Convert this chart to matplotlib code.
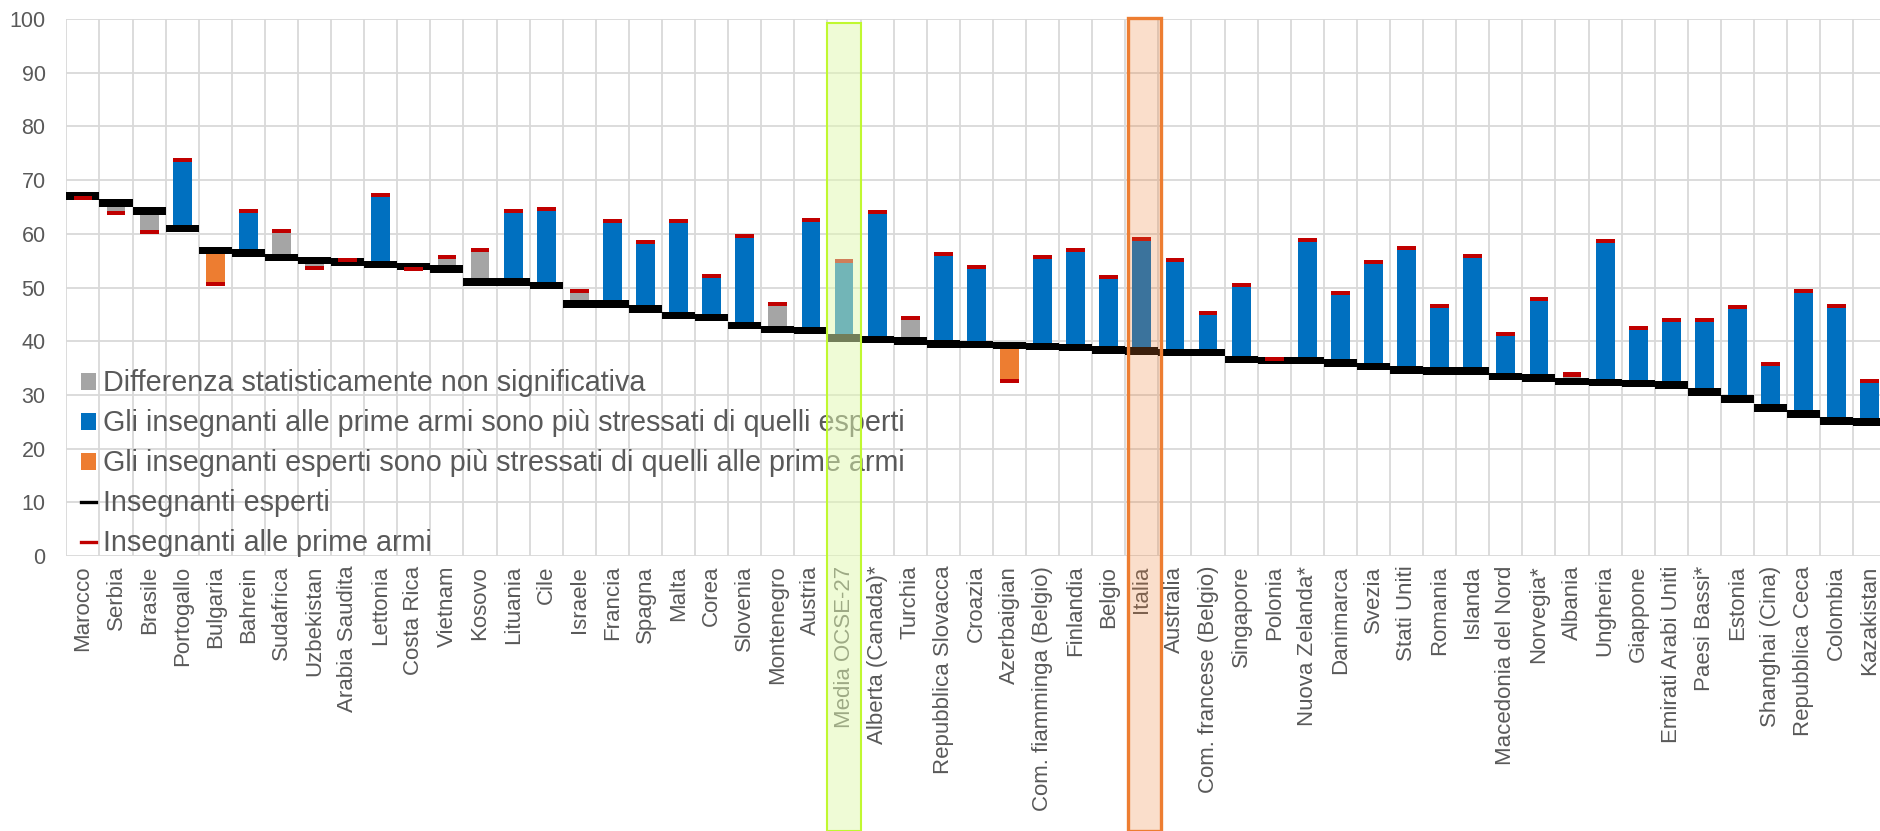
import matplotlib
matplotlib.use("Agg")
import matplotlib.pyplot as plt
import matplotlib.transforms as mtransforms
from matplotlib.patches import Rectangle, Patch
from matplotlib.lines import Line2D
import numpy as np

# ---------------- data ----------------
categories = [
    "Marocco", "Serbia", "Brasile", "Portogallo", "Bulgaria", "Bahrein", "Sudafrica",
    "Uzbekistan", "Arabia Saudita", "Lettonia", "Costa Rica", "Vietnam", "Kosovo",
    "Lituania", "Cile", "Israele", "Francia", "Spagna", "Malta", "Corea", "Slovenia",
    "Montenegro", "Austria", "Media OCSE-27", "Alberta (Canada)*", "Turchia",
    "Repubblica Slovacca", "Croazia", "Azerbaigian", "Com. fiamminga (Belgio)",
    "Finlandia", "Belgio", "Italia", "Australia", "Com. francese (Belgio)", "Singapore",
    "Polonia", "Nuova Zelanda*", "Danimarca", "Svezia", "Stati Uniti", "Romania",
    "Islanda", "Macedonia del Nord", "Norvegia*", "Albania", "Ungheria", "Giappone",
    "Emirati Arabi Uniti", "Paesi Bassi*", "Estonia", "Shanghai (Cina)",
    "Repubblica Ceca", "Colombia", "Kazakistan",
]

esperti = [
    67.0, 65.7, 64.2, 61.0, 56.9, 56.4, 55.6, 55.0, 54.8, 54.3, 53.9, 53.4, 51.0,
    51.0, 50.4, 46.9, 46.9, 46.0, 44.8, 44.4, 42.9, 42.2, 42.0, 40.6, 40.3, 40.1,
    39.5, 39.4, 39.2, 39.0, 38.8, 38.4, 38.2, 37.9, 37.9, 36.6, 36.4, 36.4, 36.0,
    35.3, 34.6, 34.4, 34.4, 33.4, 33.1, 32.5, 32.3, 32.1, 31.8, 30.5, 29.2, 27.5,
    26.4, 25.2, 24.9,
]

prime_armi = [
    66.7, 63.8, 60.3, 73.7, 50.6, 64.3, 60.6, 53.6, 55.2, 67.3, 53.4, 55.6, 56.9,
    64.3, 64.7, 49.3, 62.3, 58.4, 62.3, 52.1, 59.5, 47.0, 62.5, 55.0, 64.0, 44.4,
    56.3, 53.9, 32.5, 55.6, 56.9, 51.9, 59.1, 55.2, 45.2, 50.4, 36.6, 58.9, 48.9,
    54.7, 57.3, 46.6, 55.8, 41.4, 47.8, 33.8, 58.6, 42.5, 43.9, 43.9, 46.3, 35.8,
    49.3, 46.5, 32.5,
]

# ns = non significativa, nov = prime armi più stressati, exp = esperti più stressati
significativita = [
    "ns", "ns", "ns", "nov", "exp", "nov", "ns", "ns", "ns", "nov", "ns", "ns", "ns",
    "nov", "nov", "ns", "nov", "nov", "nov", "nov", "nov", "ns", "nov", "nov", "nov",
    "ns", "nov", "nov", "exp", "nov", "nov", "nov", "nov", "nov", "nov", "nov", "ns",
    "nov", "nov", "nov", "nov", "nov", "nov", "nov", "nov", "ns", "nov", "nov", "nov",
    "nov", "nov", "nov", "nov", "nov", "nov",
]

legend_labels = [
    "Differenza statisticamente non significativa",
    "Gli insegnanti alle prime armi sono più stressati di quelli esperti",
    "Gli insegnanti esperti sono più stressati di quelli alle prime armi",
    "Insegnanti esperti",
    "Insegnanti alle prime armi",
]

y_ticks = list(range(0, 101, 10))

highlight_avg = "Media OCSE-27"
highlight_ita = "Italia"

# ---------------- style ----------------
col = {"ns": "#A5A5A5", "nov": "#0070C0", "exp": "#ED7D31"}
RED = "#C00000"
TXT = "#595959"
GRID = "#D9D9D9"
NARROW = ["Liberation Sans Narrow", "Liberation Sans", "DejaVu Sans"]
REG = ["Liberation Sans", "DejaVu Sans"]

fig = plt.figure(figsize=(18.8, 8.31), dpi=100)
ax = fig.add_axes([66.4 / 1880, (831 - 556) / 831, 1820 / 1880, 537 / 831])

x = np.arange(len(categories))
esp = np.array(esperti)
nov = np.array(prime_armi)
colors = [col[s] for s in significativita]

ax.bar(x, nov - esp, bottom=esp, width=0.57, color=colors, zorder=2)
ax.bar(x, 1.43, bottom=esp - 0.715, width=1.0, color="black", zorder=3)
ax.bar(x, 0.75, bottom=nov - 0.375, width=0.57, color=RED, zorder=4)

ax.set_xlim(-0.5, len(categories) - 0.5)
ax.set_ylim(0, 100)
ax.set_yticks(y_ticks)
ax.set_yticklabels([str(v) for v in y_ticks], family=NARROW, fontsize=15.5, color=TXT)
ax.set_xticks(x)
ax.set_xticklabels(categories, rotation=90, family=REG, fontsize=16, color=TXT)
ax.set_xticks(np.arange(-0.5, len(categories), 1.0), minor=True)
ax.tick_params(axis="both", which="both", length=0)
ax.tick_params(axis="y", pad=15)
ax.tick_params(axis="x", pad=7)
ax.set_axisbelow(True)
ax.yaxis.grid(True, color=GRID, lw=1.3, zorder=0)
ax.xaxis.grid(True, which="minor", color=GRID, lw=1.3, zorder=0)
ax.xaxis.grid(False, which="major")
for s in ax.spines.values():
    s.set_visible(False)

handles = [
    Patch(facecolor=col["ns"], edgecolor="none"),
    Patch(facecolor=col["nov"], edgecolor="none"),
    Patch(facecolor=col["exp"], edgecolor="none"),
    Line2D([], [], color="black", lw=2.4),
    Line2D([], [], color=RED, lw=2.4),
]
leg = ax.legend(handles, legend_labels, loc="upper left", bbox_to_anchor=(0.008, 0.3475),
                frameon=False, borderpad=0, borderaxespad=0,
                prop={"family": NARROW, "size": 20.7},
                handlelength=0.53, handleheight=0.53, handletextpad=0.22,
                labelspacing=0.417)
for t in leg.get_texts():
    t.set_color(TXT)

# highlight boxes (x in data, y in figure coords)
trans = mtransforms.blended_transform_factory(ax.transData, fig.transFigure)
i_avg = categories.index(highlight_avg)
i_ita = categories.index(highlight_ita)

top_avg = (831 - 23) / 831
fig.add_artist(Rectangle((i_avg - 0.5, 0), 1.0, top_avg, transform=trans,
                         facecolor="#E1F9B0", alpha=0.51, edgecolor="none", zorder=10))
fig.add_artist(Rectangle((i_avg - 0.5, 0), 1.0, top_avg, transform=trans,
                         facecolor="none", edgecolor="#C0F830", lw=1.5, zorder=11))

top_ita = (831 - 18.3) / 831
fig.add_artist(Rectangle((i_ita - 0.41, 0), 1.0, top_ita, transform=trans,
                         facecolor="#ED7D31", alpha=0.25, edgecolor="none", zorder=10))
fig.add_artist(Rectangle((i_ita - 0.41, 0), 1.0, top_ita, transform=trans,
                         facecolor="none", edgecolor="#ED7D31", lw=2.4, zorder=11))

fig.savefig("out.png", dpi=100)
